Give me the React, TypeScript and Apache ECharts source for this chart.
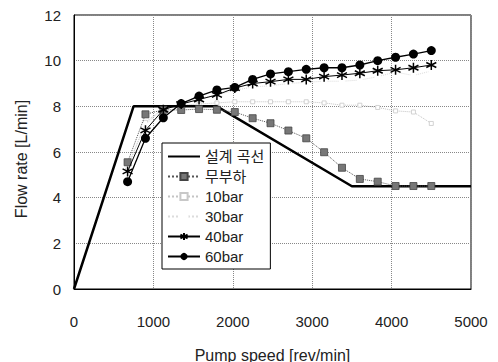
import React, { useEffect, useRef } from "react";
import * as echarts from "echarts";

const speeds = [675, 900, 1125, 1350, 1575, 1800, 2025, 2250, 2475, 2700, 2925, 3150, 3375, 3600, 3825, 4050, 4275, 4500];
const designX = [0, 750, 1800, 3500, 5000];
const designY = [0, 8, 8, 4.5, 4.5];
const noLoad = [5.55, 7.65, 7.85, 7.84, 7.88, 7.85, 7.75, 7.48, 7.26, 6.94, 6.6, 5.99, 5.31, 4.82, 4.7, 4.51, 4.51, 4.51];
const bar10 = [5.3, 7.3, 7.9, 8.05, 8.1, 8.15, 8.2, 8.2, 8.2, 8.2, 8.2, 8.15, 8.05, 8.05, 7.95, 7.8, 7.75, 7.25];
const bar30 = [5.4, 7.2, 7.9, 8.1, 8.35, 8.5, 8.7, 8.85, 8.9, 9.0, 9.05, 9.1, 9.1, 9.15, 9.3, 9.5, 9.35, 9.55];
const bar40 = [5.15, 6.95, 7.85, 8.1, 8.3, 8.5, 8.8, 9.0, 9.08, 9.18, 9.18, 9.3, 9.37, 9.45, 9.56, 9.6, 9.69, 9.81];
const bar60 = [4.7, 6.6, 7.5, 8.12, 8.45, 8.72, 8.83, 9.18, 9.42, 9.52, 9.62, 9.69, 9.69, 9.81, 10.0, 10.15, 10.29, 10.44];
const seriesNames = ["설계 곡선", "무부하", "10bar", "30bar", "40bar", "60bar"];
const xTicks = { min: 0, max: 5000, interval: 1000 };
const yTicks = { min: 0, max: 12, interval: 2 };

const FONT = "'Liberation Sans', 'Noto Sans CJK KR', sans-serif";
const pairs = (ys: number[]) => speeds.map((x, i) => [x, ys[i]]);
const asterisk = "path://M5,0 L5,10 M0.7,2.5 L9.3,7.5 M0.7,7.5 L9.3,2.5";

export default function App() {
  const ref = useRef<HTMLDivElement>(null);
  useEffect(() => {
    const chart = echarts.init(ref.current!, null, { renderer: "svg" });
    chart.setOption({
      animation: false,
      backgroundColor: "#fff",
      textStyle: { fontFamily: FONT },
      grid: {
        left: 74, right: 27, top: 15, bottom: 73,
        outerBoundsMode: "none", containLabel: false,
        show: true, borderColor: "#000", borderWidth: 1,
      },
      xAxis: {
        type: "value",
        ...xTicks,
        name: "Pump speed [rev/min]",
        nameLocation: "middle",
        nameGap: 58,
        nameTextStyle: { fontSize: 16, color: "#222", fontFamily: FONT },
        axisLine: { lineStyle: { color: "#000" } },
        axisTick: { show: false },
        axisLabel: { fontSize: 15, color: "#222", margin: 25, fontFamily: FONT, formatter: (v: number) => String(v) },
        splitLine: { show: true, lineStyle: { color: "#888", type: "dotted" } },
      },
      yAxis: {
        type: "value",
        ...yTicks,
        name: "Flow rate [L/min]",
        nameLocation: "middle",
        nameGap: 45,
        nameTextStyle: { fontSize: 16, color: "#222", fontFamily: FONT, padding: [0, 14, 0, 0] },
        axisLine: { show: true, lineStyle: { color: "#000" } },
        axisTick: { show: false },
        axisLabel: { fontSize: 15, color: "#222", margin: 13, fontFamily: FONT },
        splitLine: { show: true, lineStyle: { color: "#888", type: "dotted" } },
      },
      legend: {
        data: [
          { name: seriesNames[0], itemStyle: { opacity: 0 } },
          seriesNames[1],
          seriesNames[2],
          seriesNames[3],
          seriesNames[4],
          seriesNames[5],
        ],
        orient: "vertical",
        left: 162,
        top: 143,
        padding: [6, 6, 5, 5],
        itemWidth: 32,
        itemHeight: 9,
        itemGap: 5,
        backgroundColor: "#fff",
        borderColor: "#000",
        borderWidth: 1,
        textStyle: { fontSize: 15, color: "#222", fontFamily: FONT },
      },
      series: [
        {
          name: seriesNames[0],
          type: "line",
          data: designX.map((x, i) => [x, designY[i]]),
          showSymbol: false,
          symbol: "circle",
          symbolSize: 0,
          lineStyle: { color: "#000", width: 2.5 },
          itemStyle: { color: "#000" },
          z: 3,
        },
        {
          name: seriesNames[1],
          type: "line",
          data: pairs(noLoad),
          symbol: "rect",
          symbolSize: 7,
          lineStyle: { color: "#555", width: 1, type: "dotted" },
          itemStyle: { color: "#777", borderColor: "#444", borderWidth: 0.8 },
          z: 4,
        },
        {
          name: seriesNames[2],
          type: "line",
          data: pairs(bar10),
          symbol: "rect",
          symbolSize: 4,
          lineStyle: { color: "#c4c4c4", width: 1, type: "dotted" },
          itemStyle: { color: "#fff", borderColor: "#c8c8c8", borderWidth: 0.8 },
          z: 2,
        },
        {
          name: seriesNames[3],
          type: "line",
          data: pairs(bar30),
          symbol: "emptyCircle",
          symbolSize: 4,
          lineStyle: { color: "#dcdcdc", width: 1, type: "dotted" },
          itemStyle: { color: "#fff", borderColor: "#c4c4c4", borderWidth: 0.8 },
          z: 2,
        },
        {
          name: seriesNames[4],
          type: "line",
          data: pairs(bar40),
          symbol: asterisk,
          symbolSize: 10,
          lineStyle: { color: "#000", width: 1 },
          itemStyle: { color: "none", borderColor: "#000", borderWidth: 1.5 },
          z: 5,
        },
        {
          name: seriesNames[5],
          type: "line",
          data: pairs(bar60),
          symbol: "circle",
          symbolSize: 9,
          lineStyle: { color: "#000", width: 1.3 },
          itemStyle: { color: "#000" },
          z: 6,
        },
      ],
    });
    return () => chart.dispose();
  }, []);
  return <div ref={ref} style={{ width: 498, height: 362, position: "absolute", left: 0, top: 0 }} />;
}
